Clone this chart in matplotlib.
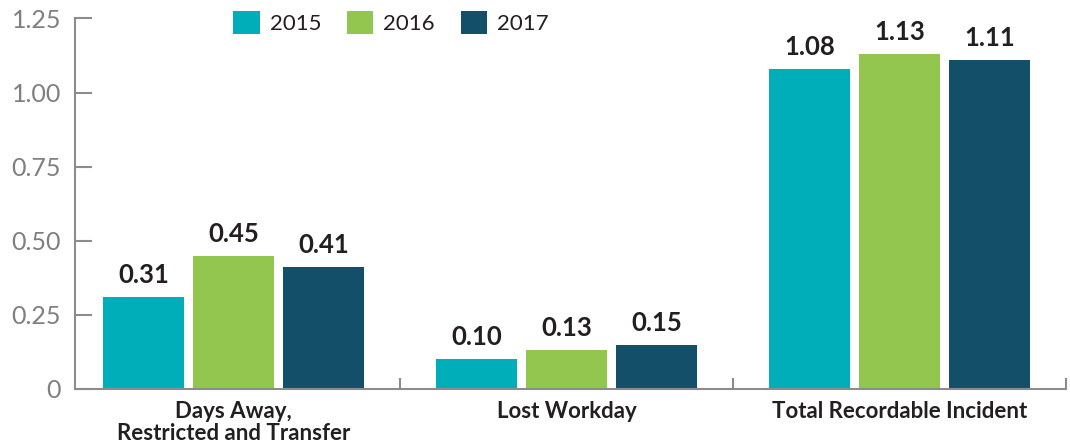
import numpy as np
import matplotlib
matplotlib.use('Agg')
import matplotlib.pyplot as plt
from matplotlib.patches import Patch

plt.rcParams['font.family'] = ['Lato', 'DejaVu Sans']

# data
categories = ['Days Away,\nRestricted and Transfer', 'Lost Workday', 'Total Recordable Incident']
years = ['2015', '2016', '2017']
rates_2015 = [0.31, 0.10, 1.08]
rates_2016 = [0.45, 0.13, 1.13]
rates_2017 = [0.41, 0.15, 1.11]
ytick_values = [0, 0.25, 0.50, 0.75, 1.00, 1.25]
ytick_labels = ['0', '0.25', '0.50', '0.75', '1.00', '1.25']

colors = ['#00aeb9', '#92c64e', '#134f69']
axis_grey = '#8c8c8c'
text_dark = '#231f20'

fig = plt.figure(figsize=(10.7, 4.45), dpi=100)
ax = fig.add_axes([75 / 1070, 1 - 389 / 445, (1066 - 75) / 1070, (389 - 18.4) / 445])

x = np.arange(len(categories))
width = 0.243
step = 0.27
series = [rates_2015, rates_2016, rates_2017]
for i, (vals, col) in enumerate(zip(series, colors)):
    pos = x + (i - 1) * step
    bars = ax.bar(pos, vals, width=width, color=col, linewidth=0, zorder=2)
    for b, v in zip(bars, vals):
        ax.annotate(f'{v:.2f}', (b.get_x() + b.get_width() / 2, v),
                    xytext=(0, 14), textcoords='offset pixels',
                    ha='center', va='baseline', fontsize=18.5,
                    fontweight='bold', color=text_dark)

ax.set_xlim(-0.4756, 2.5)
ax.set_ylim(0, 1.25)

for s in ['top', 'right']:
    ax.spines[s].set_visible(False)
for s in ['left', 'bottom']:
    ax.spines[s].set_color(axis_grey)
    ax.spines[s].set_linewidth(1.5)

ax.set_yticks(ytick_values)
ax.set_yticklabels(ytick_labels)
ax.tick_params(axis='y', direction='in', length=12, width=1.5, color=axis_grey,
               labelcolor='#7f7f7f', labelsize=18, pad=10)

# separator ticks between groups
ax.set_xticks([0.5, 1.5, 2.5])
ax.set_xticklabels([])
ax.tick_params(axis='x', which='major', direction='in', length=8, width=1.5, color=axis_grey)
ax.set_xticks(x, minor=True)
ax.set_xticklabels(categories, minor=True, fontsize=16, fontweight='bold',
                   color=text_dark, linespacing=1.0)
ax.tick_params(axis='x', which='minor', length=0, pad=9)

handles = [Patch(facecolor=c, edgecolor='none') for c in colors]
fig.legend(handles, years, loc='upper left', bbox_to_anchor=(233 / 1070, 1 - 11 / 445),
           bbox_transform=fig.transFigure, ncol=3, frameon=False, fontsize=16,
           handlelength=1.2, handleheight=1.2, handletextpad=0.45,
           columnspacing=1.15, borderpad=0, borderaxespad=0,
           labelcolor=text_dark)

fig.savefig('out.png', dpi=100)
